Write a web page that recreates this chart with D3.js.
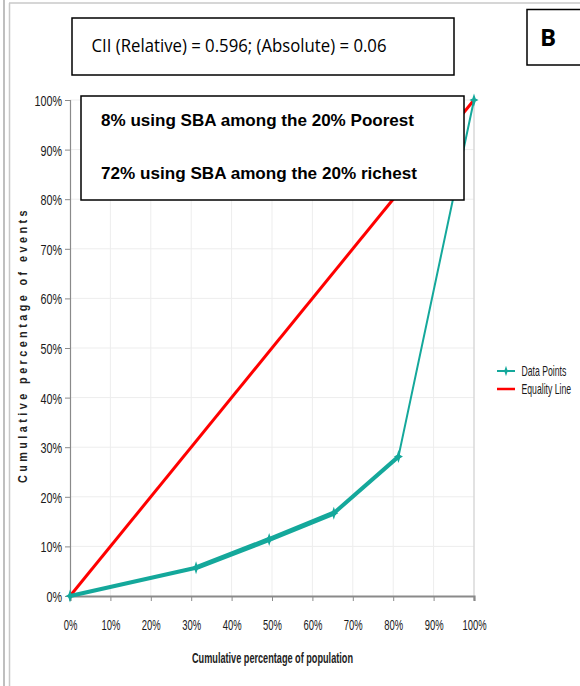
<!DOCTYPE html>
<html><head><meta charset="utf-8">
<script src="https://cdn.jsdelivr.net/npm/d3@7"></script>
<style>html,body{margin:0;padding:0;background:#fff}svg{display:block}</style>
</head><body>
<script>
// ---- data ----
const xTicks = [0,0.1,0.2,0.3,0.4,0.5,0.6,0.7,0.8,0.9,1.0];
const yTicks = [0,0.1,0.2,0.3,0.4,0.5,0.6,0.7,0.8,0.9,1.0];
const popShare   = [0, 0.312, 0.493, 0.653, 0.813, 1.0];   // cumulative population
const eventShare = [0, 0.057, 0.114, 0.167, 0.281, 1.0];   // cumulative events (data points)
const equalityX  = [0, 1];
const equalityY  = [0, 1];
const segWidths  = [4, 5, 5, 4, 2];
const seriesNames = ["Data Points", "Equality Line"];
const titleText = "CII (Relative) = 0.596; (Absolute) = 0.06";
const noteLines = ["8% using SBA among the 20% Poorest", "72% using SBA among the 20% richest"];
const panelLabel = "B";
const xTitle = "Cumulative percentage of population";
const yTitle = "Cumulative percentage of events";

const W = 580, H = 686;
const teal = "#14a89b", red = "#ff0000";
const svg = d3.select("body").append("svg").attr("width", W).attr("height", H);

// outer frame
svg.append("line").attr("x1",4).attr("x2",4).attr("y1",0).attr("y2",H).attr("stroke","#aaa").attr("stroke-width",1.5);
svg.append("line").attr("x1",9.5).attr("x2",9.5).attr("y1",3).attr("y2",H).attr("stroke","#c8c8c8").attr("stroke-width",1.5);
svg.append("line").attr("x1",9).attr("x2",W).attr("y1",3).attr("y2",3).attr("stroke","#c8c8c8").attr("stroke-width",1.5);

const x = d3.scaleLinear().domain([0,1]).range([70,474]);
const y = d3.scaleLinear().domain([0,1]).range([596,100]);

// gridlines
svg.append("g").selectAll("line").data(xTicks.slice(1,-1)).join("line")
  .attr("x1",d=>x(d)).attr("x2",d=>x(d)).attr("y1",y(1)).attr("y2",y(0))
  .attr("stroke","#ededed").attr("stroke-width",1);
svg.append("g").selectAll("line").data(yTicks.slice(1)).join("line")
  .attr("x1",x(0)).attr("x2",x(1)).attr("y1",d=>y(d)).attr("y2",d=>y(d))
  .attr("stroke","#ededed").attr("stroke-width",1);
// right border
svg.append("line").attr("x1",x(1)).attr("x2",x(1)).attr("y1",y(1)).attr("y2",y(0)+4)
  .attr("stroke","#d9d9d9").attr("stroke-width",1.5);

// axes
const fmt = d3.format(".0%");
const xAxis = svg.append("g").attr("transform",`translate(0,${y(0)})`)
  .call(d3.axisBottom(x).tickValues(xTicks).tickFormat(fmt).tickSize(5).tickPadding(0));
xAxis.select(".domain").attr("stroke","#8a8a8a").attr("stroke-width",2.2);
xAxis.selectAll(".tick line").attr("stroke","#8a8a8a");
xAxis.selectAll(".tick text").text(null);
xAxis.selectAll(".tick").append("text")
  .attr("transform","translate(0,33.5) scale(0.63,1)").attr("text-anchor","middle")
  .attr("fill","#1a1a1a").style("font-family","Liberation Sans, Arial, sans-serif").style("font-size","15px")
  .text(d=>fmt(d));

const yAxis = svg.append("g").attr("transform",`translate(${x(0)},0)`)
  .call(d3.axisLeft(y).tickValues(yTicks).tickFormat(fmt).tickSize(5).tickPadding(0));
yAxis.select(".domain").attr("stroke","#8a8a8a").attr("stroke-width",1.2);
yAxis.selectAll(".tick line").attr("stroke","#8a8a8a");
yAxis.selectAll(".tick text").text(null);
yAxis.selectAll(".tick").append("text")
  .attr("transform","translate(-8,5.5) scale(0.72,1)").attr("text-anchor","end")
  .attr("fill","#1a1a1a").style("font-family","Liberation Sans, Arial, sans-serif").style("font-size","15px")
  .text(d=>fmt(d));

// equality line
const eq = d3.zip(equalityX, equalityY);
svg.append("path").datum(eq)
  .attr("d", d3.line().x(d=>x(d[0])).y(d=>y(d[1])))
  .attr("fill","none").attr("stroke",red).attr("stroke-width",3);

// data points line (segments)
const pts = d3.zip(popShare, eventShare);
const segs = d3.pairs(pts);
svg.append("g").selectAll("line").data(segs).join("line")
  .attr("x1",d=>x(d[0][0])).attr("y1",d=>y(d[0][1]))
  .attr("x2",d=>x(d[1][0])).attr("y2",d=>y(d[1][1]))
  .attr("stroke",teal).attr("stroke-linecap","round")
  .attr("stroke-width",(d,i)=>segWidths[i]);
const markerPath = "M0,-6.5 L1.6,-1.6 L4.5,0 L1.6,1.6 L0,6.5 L-1.6,1.6 L-4.5,0 L-1.6,-1.6 Z";
svg.append("g").selectAll("path").data(pts).join("path")
  .attr("transform",d=>`translate(${x(d[0])},${y(d[1])})`)
  .attr("d",markerPath).attr("fill",teal);

// note box
svg.append("rect").attr("x",81).attr("y",96).attr("width",383).attr("height",104)
  .attr("fill","#fff").attr("stroke","#000").attr("stroke-width",1.5);
svg.selectAll(".note").data(noteLines).join("text").attr("class","note")
  .attr("x",101).attr("y",(d,i)=>125.5+i*53)
  .attr("textLength",(d,i)=>i===0?313:316).attr("lengthAdjust","spacingAndGlyphs")
  .style("font-family","Liberation Sans, Arial, sans-serif").style("font-weight","bold").style("font-size","17px")
  .attr("fill","#000").text(d=>d);

// title box
svg.append("rect").attr("x",72).attr("y",18).attr("width",382).attr("height",57)
  .attr("fill","#fff").attr("stroke","#000").attr("stroke-width",1.5);
svg.append("text").attr("x",91.5).attr("y",52).attr("textLength",295).attr("lengthAdjust","spacingAndGlyphs")
  .style("font-family","Open Sans, Liberation Sans, sans-serif").style("font-size","17.5px").attr("fill","#000")
  .text(titleText);

// panel label box
svg.append("rect").attr("x",527).attr("y",9.5).attr("width",60).attr("height",55.5)
  .attr("fill","#fff").attr("stroke","#000").attr("stroke-width",1.5);
svg.append("text").attr("x",548).attr("y",45.5).attr("text-anchor","middle")
  .style("font-family","Open Sans, Liberation Sans, sans-serif").style("font-weight","bold").style("font-size","24px")
  .text(panelLabel);

// axis titles
svg.append("text").attr("x",192).attr("y",663).attr("textLength",161).attr("lengthAdjust","spacingAndGlyphs")
  .style("font-family","Liberation Sans, Arial, sans-serif").style("font-weight","bold").style("font-size","14px")
  .attr("fill","#222").text(xTitle);
svg.append("text").attr("transform","translate(27,483) rotate(-90)")
  .attr("textLength",276).attr("lengthAdjust","spacingAndGlyphs")
  .style("font-family","Liberation Sans, Arial, sans-serif").style("font-weight","bold").style("font-size","12.5px")
  .style("letter-spacing","4px").attr("fill","#222").text(yTitle);

// legend
const lg = svg.append("g");
const legY = [371, 389];
lg.append("line").attr("x1",497).attr("x2",515).attr("y1",legY[0]).attr("y2",legY[0]).attr("stroke",teal).attr("stroke-width",2);
lg.append("path").attr("transform",`translate(506,${legY[0]}) scale(0.8)`).attr("d",markerPath).attr("fill",teal);
lg.append("line").attr("x1",497).attr("x2",515).attr("y1",legY[1]).attr("y2",legY[1]).attr("stroke",red).attr("stroke-width",2.5);
lg.selectAll("text").data(seriesNames).join("text")
  .attr("transform",(d,i)=>`translate(521.5,${legY[i]+5}) scale(0.62,1)`)
  .style("font-family","Liberation Sans, Arial, sans-serif").style("font-size","14px").attr("fill","#1a1a1a")
  .text(d=>d);
</script>
</body></html>
